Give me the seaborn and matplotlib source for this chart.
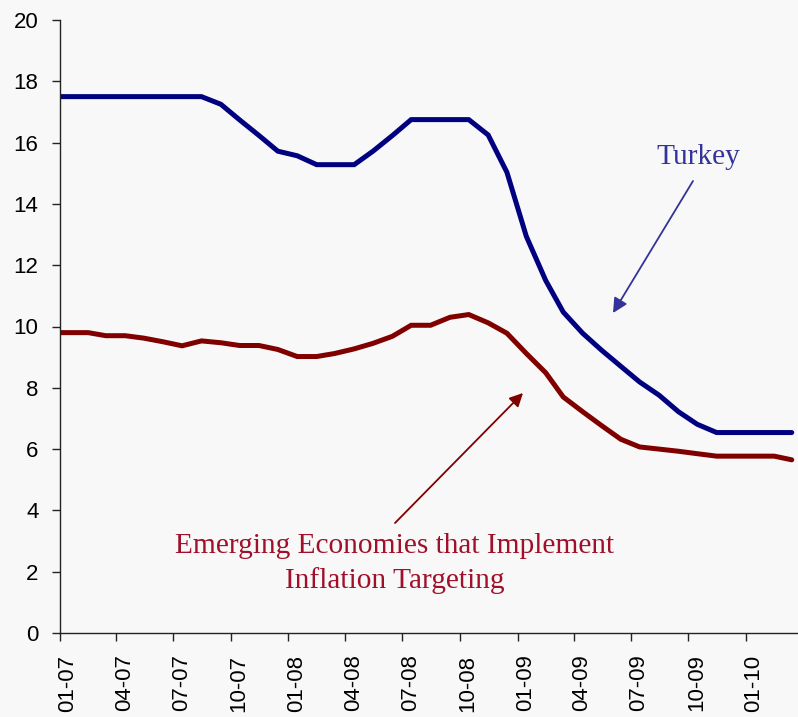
import matplotlib
matplotlib.use("Agg")
import matplotlib.pyplot as plt
import matplotlib.transforms as mtransforms
import numpy as np
import pandas as pd
import seaborn as sns

# ---- data ----
start_date = "2007-01-01"
obs_dates = ["2007-01-01"] + [f"{y}-{m:02d}-15" for y in (2007, 2008, 2009, 2010)
                              for m in range(1, 13)][:39]
turkey = [17.5, 17.5, 17.5, 17.5, 17.5, 17.5, 17.5, 17.5, 17.5,
          17.25, 16.74, 16.23, 15.72, 15.57, 15.28, 15.28, 15.28, 15.72, 16.23,
          16.75, 16.75, 16.75, 16.75, 16.25, 15.03, 12.94, 11.5, 10.47, 9.78,
          9.23, 8.7, 8.19, 7.76, 7.22, 6.81, 6.54, 6.54, 6.54, 6.54, 6.54]
emerging = [9.8, 9.8, 9.8, 9.7, 9.7, 9.62, 9.5, 9.37, 9.53,
            9.47, 9.38, 9.38, 9.25, 9.02, 9.02, 9.12, 9.27, 9.45, 9.68,
            10.04, 10.04, 10.3, 10.39, 10.12, 9.78, 9.12, 8.49, 7.7, 7.22,
            6.77, 6.32, 6.07, 6.0, 5.93, 5.85, 5.77, 5.77, 5.77, 5.77, 5.65]
tick_labels = ["01-07", "04-07", "07-07", "10-07", "01-08", "04-08", "07-08",
               "10-08", "01-09", "04-09", "07-09", "10-09", "01-10"]
label_turkey = "Turkey"
label_emerging = "Emerging Economies that Implement\nInflation Targeting"

df = pd.DataFrame({
    "date": pd.to_datetime(obs_dates * 2),
    "value": turkey + emerging,
    "series": ["Turkey"] * len(turkey) + ["Emerging"] * len(emerging),
})

sns.set_style("white")
plt.rcParams["font.family"] = ["Liberation Sans", "DejaVu Sans"]

W, H = 798, 717
fig = plt.figure(figsize=(W / 100, H / 100), dpi=100, facecolor="#f8f8f8")
ax = fig.add_axes([60 / W, (H - 633) / H, 1 - 60 / W, (633 - 20) / H])
ax.set_facecolor("#f8f8f8")

sns.lineplot(data=df, x="date", y="value", hue="series",
             palette={"Turkey": "#000080", "Emerging": "#800000"},
             linewidth=3.6, legend=False, ax=ax, estimator=None,
             solid_capstyle="round", solid_joinstyle="miter")

ax.set_ylim(0, 20)
ax.set_yticks(np.arange(0, 21, 2))
ax.set_xlim(pd.Timestamp(start_date), pd.Timestamp("2010-03-25"))
tick_dates = pd.date_range(start_date, periods=len(tick_labels), freq="3MS")
ax.set_xticks(tick_dates)
ax.set_xticklabels(tick_labels, rotation=90, va="top", ha="center")
ax.set_xlabel("")
ax.set_ylabel("")

for s in ["top", "right"]:
    ax.spines[s].set_visible(False)
for s in ["left", "bottom"]:
    ax.spines[s].set_color("#222222")
    ax.spines[s].set_linewidth(1.0)

ax.tick_params(axis="both", direction="out", length=6, width=1.0,
               color="#222222", labelsize=16, pad=9.5, labelcolor="black")
ax.tick_params(axis="x", bottom=True)
ax.tick_params(axis="y", left=True)

offset = mtransforms.ScaledTranslation(8 / 100, 0, fig.dpi_scale_trans)
for lbl in ax.get_xticklabels():
    lbl.set_transform(lbl.get_transform() + offset)

serif = ["Liberation Serif", "DejaVu Serif"]
# Turkey annotation
ax.annotate("", xy=(613, H - 313), xycoords="figure pixels",
            xytext=(693, H - 181), textcoords="figure pixels",
            arrowprops=dict(arrowstyle="-|>", color="#333399", lw=1.3,
                            mutation_scale=22, shrinkA=0, shrinkB=0))
fig.text(698 / W, (H - 157) / H, label_turkey, ha="center", va="center",
         fontsize=21.2, color="#333399", family=serif)

# Emerging annotation
ax.annotate("", xy=(523, H - 393), xycoords="figure pixels",
            xytext=(395, H - 523), textcoords="figure pixels",
            arrowprops=dict(arrowstyle="-|>", color="#800000", lw=1.3,
                            mutation_scale=20, shrinkA=0, shrinkB=0))
fig.text(394.5 / W, (H - 563.5) / H, label_emerging, ha="center", va="center",
         fontsize=21.2, color="#a0102a", family=serif, linespacing=1.42,
         multialignment="center")

fig.savefig("out.png", dpi=100, facecolor=fig.get_facecolor())
